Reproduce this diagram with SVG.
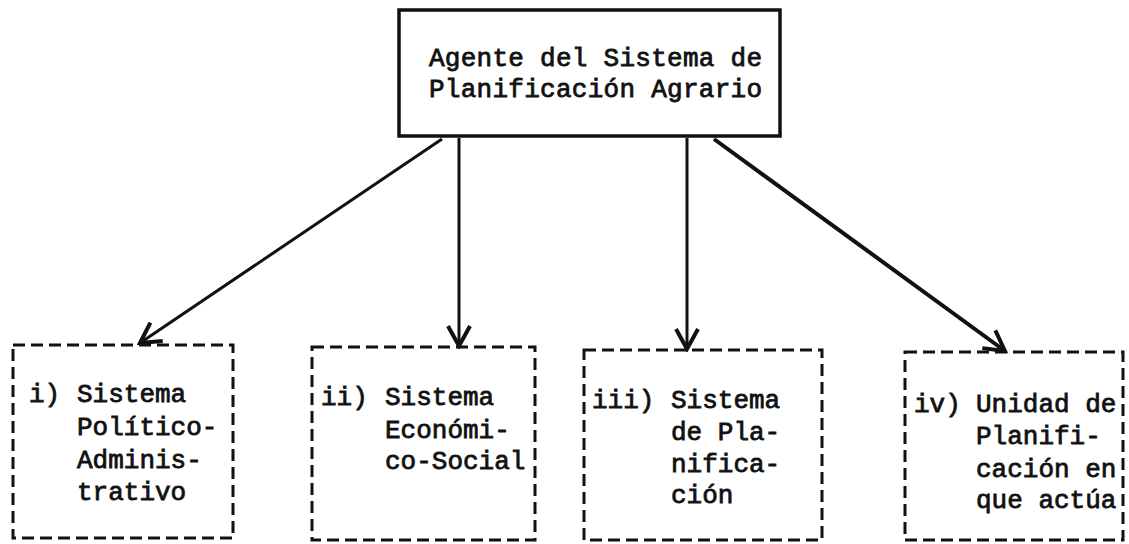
<svg xmlns="http://www.w3.org/2000/svg" width="1129" height="544" viewBox="0 0 1129 544">
<defs>
<style>
.t{font-family:"Liberation Mono","Courier New",monospace;font-size:26px;fill:#111;stroke:#111;stroke-width:0.8}
.dash{fill:none;stroke:#111;stroke-width:3;stroke-dasharray:12 6}
.solid{fill:none;stroke:#111;stroke-width:3.5}
.c{fill:none;stroke:#111;stroke-width:3}
</style>
<marker id="ah" viewBox="0 0 26 26" refX="23" refY="13" markerWidth="26" markerHeight="26" markerUnits="userSpaceOnUse" orient="auto">
<path d="M3,2 L23,13 L3,24" fill="none" stroke="#111" stroke-width="4" stroke-linejoin="miter"/>
</marker>
</defs>
<rect width="1129" height="544" fill="#fff"/>
<g id="top">
<rect class="solid" x="399" y="10" width="381" height="126"/>
<text class="t" x="429" y="66" textLength="333">Agente del Sistema de</text>
<text class="t" x="429" y="97" textLength="333">Planificación Agrario</text>
</g>
<g id="connectors">
<line class="c" x1="442" y1="139" x2="140" y2="343" marker-end="url(#ah)"/>
<line class="c" x1="459" y1="138" x2="459" y2="346" marker-end="url(#ah)"/>
<line class="c" x1="687" y1="138" x2="687" y2="349" marker-end="url(#ah)"/>
<line class="c" x1="714" y1="139" x2="1005" y2="351" marker-end="url(#ah)" style="stroke-width:4"/>
</g>
<g id="n1">
<rect class="dash" x="13" y="345" width="220" height="193"/>
<text class="t" x="29" y="402">i)</text>
<text class="t" x="77" y="402">Sistema</text>
<text class="t" x="77" y="435">Político-</text>
<text class="t" x="77" y="468">Adminis-</text>
<text class="t" x="77" y="500">trativo</text>
</g>
<g id="n2">
<rect class="dash" x="312" y="347" width="223" height="193"/>
<text class="t" x="321" y="405">ii)</text>
<text class="t" x="385" y="405">Sistema</text>
<text class="t" x="385" y="438">Económi-</text>
<text class="t" x="385" y="469">co-Social</text>
</g>
<g id="n3">
<rect class="dash" x="584" y="350" width="238" height="190"/>
<text class="t" x="592" y="408">iii)</text>
<text class="t" x="671" y="408">Sistema</text>
<text class="t" x="671" y="440">de Pla-</text>
<text class="t" x="671" y="472">nifica-</text>
<text class="t" x="671" y="503">ción</text>
</g>
<g id="n4">
<rect class="dash" x="905" y="352" width="218" height="188"/>
<text class="t" x="914" y="412">iv)</text>
<text class="t" x="976" y="412">Unidad de</text>
<text class="t" x="976" y="444">Planifi-</text>
<text class="t" x="976" y="477">cación en</text>
<text class="t" x="976" y="508">que actúa</text>
</g>
</svg>
